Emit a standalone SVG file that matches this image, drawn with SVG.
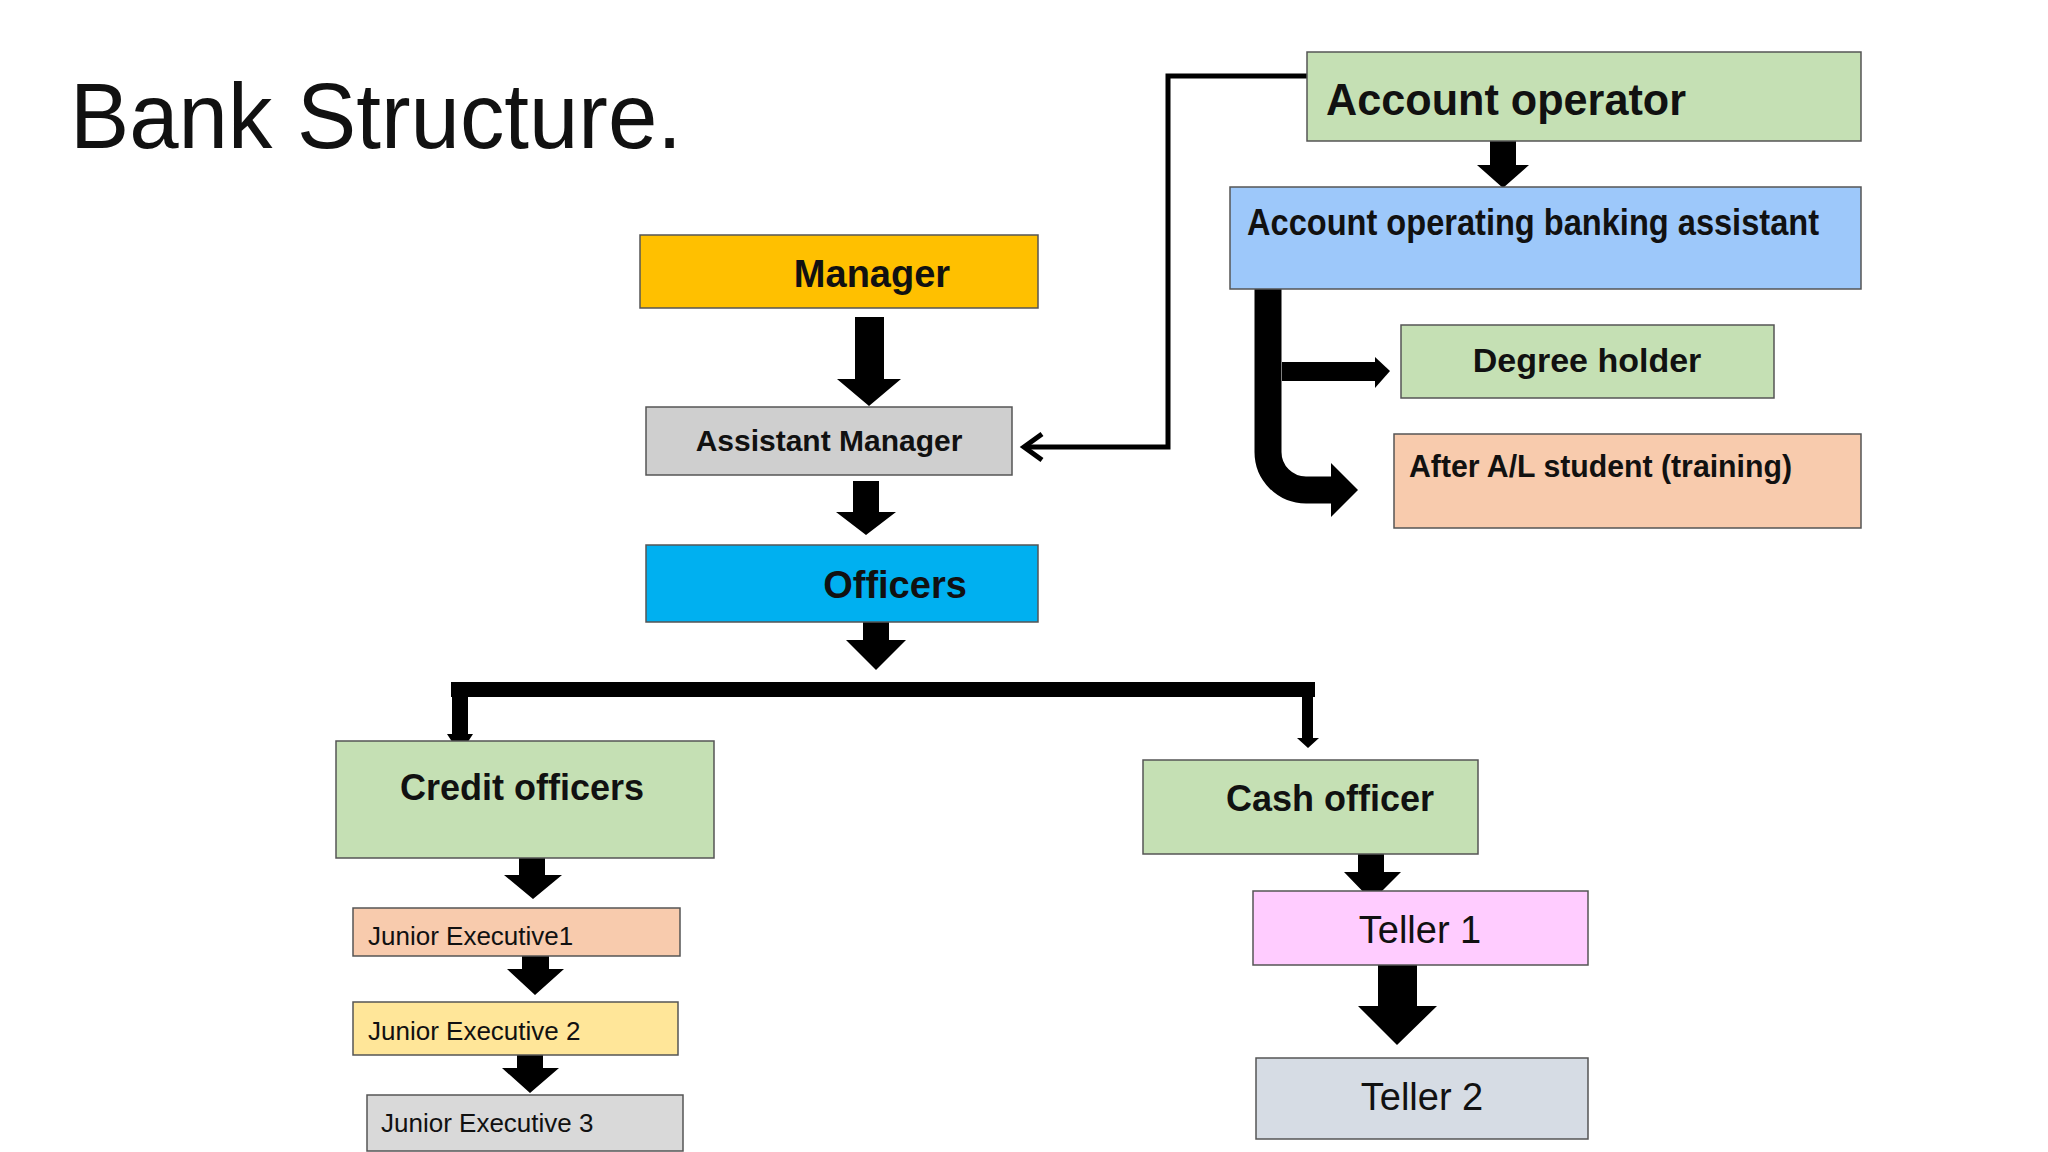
<svg xmlns="http://www.w3.org/2000/svg" width="2048" height="1152" viewBox="0 0 2048 1152">
<style>
.b{stroke:#555;stroke-width:1.5}
.t{font-family:"Liberation Sans",Arial,sans-serif;fill:#111}
.bd{font-weight:bold}
.c{text-anchor:middle}
</style>
<rect width="2048" height="1152" fill="#fff"/>
<text class="t" x="70" y="148" font-size="92" textLength="612" lengthAdjust="spacingAndGlyphs">Bank Structure.</text>
<g id="connectors" fill="#000">
<polyline points="1316,76 1168,76 1168,447 1028,447" fill="none" stroke="#000" stroke-width="5"/>
<polyline points="1042,434 1024,447 1042,460" fill="none" stroke="#000" stroke-width="5"/>
<polygon points="1490,141 1516,141 1516,165 1529,165 1503,188 1477,165 1490,165"/>
<path d="M1268,253 V452 A38,38 0 0 0 1306,490 H1334" fill="none" stroke="#000" stroke-width="27"/>
<polygon points="1331,463 1358,490 1331,517"/>
<rect x="1282" y="362" width="95" height="19"/>
<polygon points="1375,357 1390,371 1375,388"/>
<polygon points="855,317 884,317 884,379 901,379 869,406 837,379 855,379"/>
<polygon points="853,481 879,481 879,512 896,512 866,535 836,512 853,512"/>
<polygon points="863,622 889,622 889,640 906,640 876,670 846,640 863,640"/>
<rect x="451" y="682" width="864" height="15"/>
<polygon points="452,682 468,682 468,734 473,734 460,754 447,734 452,734"/>
<polygon points="1302,682 1313,682 1313,738 1319,738 1308,748 1297,738 1302,738"/>
<polygon points="519,858 545,858 545,875 562,875 533,899 504,875 519,875"/>
<polygon points="522,943 549,943 549,969 564,969 535,995 507,969 522,969"/>
<polygon points="517,1045 543,1045 543,1068 559,1068 530,1093 502,1068 517,1068"/>
<polygon points="1358,854 1384,854 1384,872 1401,872 1372,901 1344,872 1358,872"/>
<polygon points="1378,965 1417,965 1417,1006 1437,1006 1397,1045 1358,1006 1378,1006"/>
</g>
<g id="account-operator"><rect class="b" x="1307" y="52" width="554" height="89" fill="#C5E0B4"/><text class="t bd" x="1326" y="115" font-size="44" fill="#222" textLength="360" lengthAdjust="spacingAndGlyphs">Account operator</text></g>
<g id="aoba"><rect class="b" x="1230" y="187" width="631" height="102" fill="#9DC8FA"/><text class="t bd" x="1247" y="235" font-size="36" textLength="572" lengthAdjust="spacingAndGlyphs">Account operating banking assistant</text></g>
<g id="degree-holder"><rect class="b" x="1401" y="325" width="373" height="73" fill="#C5E0B4"/><text class="t bd c" x="1587" y="372" font-size="34">Degree holder</text></g>
<g id="after-al"><rect class="b" x="1394" y="434" width="467" height="94" fill="#F8CBAD"/><text class="t bd" x="1409" y="477" font-size="31" textLength="383" lengthAdjust="spacingAndGlyphs">After A/L student (training)</text></g>
<g id="manager"><rect class="b" x="640" y="235" width="398" height="73" fill="#FFC000"/><text class="t bd c" x="872" y="287" font-size="38">Manager</text></g>
<g id="assistant-manager"><rect class="b" x="646" y="407" width="366" height="68" fill="#CFCFCF"/><text class="t bd c" x="829" y="451" font-size="30">Assistant Manager</text></g>
<g id="officers"><rect class="b" x="646" y="545" width="392" height="77" fill="#00B0F0"/><text class="t bd c" x="895" y="598" font-size="38">Officers</text></g>
<g id="credit-officers"><rect class="b" x="336" y="741" width="378" height="117" fill="#C5E0B4"/><text class="t bd c" x="522" y="800" font-size="36">Credit officers</text></g>
<g id="cash-officer"><rect class="b" x="1143" y="760" width="335" height="94" fill="#C5E0B4"/><text class="t bd c" x="1330" y="811" font-size="36">Cash officer</text></g>
<g id="je1"><rect class="b" x="353" y="908" width="327" height="48" fill="#F8CBAD"/><text class="t" x="368" y="945" font-size="26" fill="#222">Junior Executive1</text></g>
<g id="je2"><rect class="b" x="353" y="1002" width="325" height="53" fill="#FFE699"/><text class="t" x="368" y="1040" font-size="26" fill="#222">Junior Executive 2</text></g>
<g id="je3"><rect class="b" x="367" y="1095" width="316" height="56" fill="#D9D9D9"/><text class="t" x="381" y="1132" font-size="26" fill="#222">Junior Executive 3</text></g>
<g id="teller1"><rect class="b" x="1253" y="891" width="335" height="74" fill="#FFCCFF"/><text class="t c" x="1420" y="943" font-size="38">Teller 1</text></g>
<g id="teller2"><rect class="b" x="1256" y="1058" width="332" height="81" fill="#D6DCE4"/><text class="t c" x="1422" y="1110" font-size="38">Teller 2</text></g>
</svg>
